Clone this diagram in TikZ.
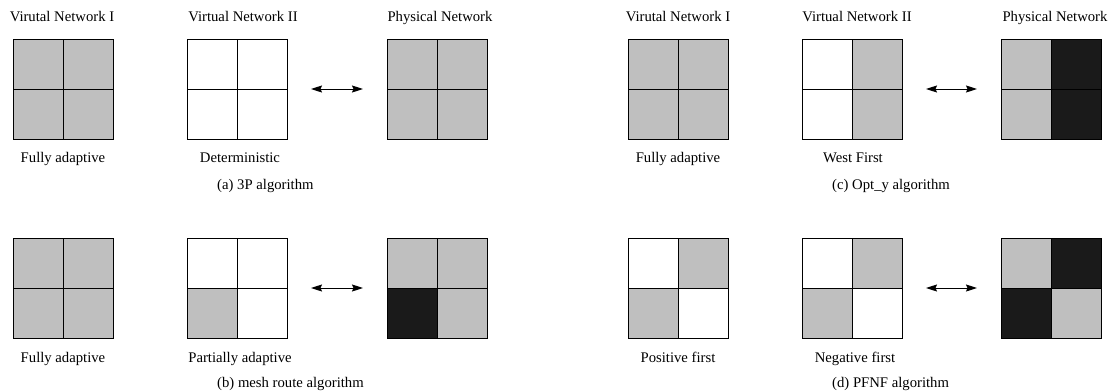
\documentclass[tikz,border=0pt]{standalone}
\usepackage{fontspec}
\setmainfont{Liberation Serif}
\usetikzlibrary{
  arrows.meta,
  positioning
}
\definecolor{cellgray}{HTML}{BFBFBF}
\definecolor{celldark}{HTML}{1A1A1A}
\tikzset{
  % Outline of one 2x2 mesh.
  mesh box/.style={
    minimum size=100pt,
    inner sep=0pt,
    outer sep=0pt},
%
  % Borders between the channels.
  mesh line/.style={
    line width=1pt},
%
  % Mapping between virtual and physical network.
  mapping/.style={
    {Stealth[length=11pt,width=7pt,inset=1.5pt]}-{Stealth[length=11pt,width=7pt,inset=1.5pt]},
    line width=1pt,
    shorten <=24pt,
    shorten >=24pt},
%
  % Texts above and below the meshes.
  description/.style={
    font=\fontsize{14.7}{17}\selectfont,
    anchor=base,
    inner sep=0pt},
  caption/.style={
    description,
    anchor=base west},
}
% name, centre, top left, top right, bottom left, bottom right
\newcommand{\quadmesh}[6]{%
  \node[mesh box] (#1) at (#2) {};
  \fill[#3] (#1.north west) rectangle (#1.center);
  \fill[#4] (#1.north east) rectangle (#1.center);
  \fill[#5] (#1.south west) rectangle (#1.center);
  \fill[#6] (#1.south east) rectangle (#1.center);
  \draw[mesh line] (#1.north) -- (#1.south) (#1.west) -- (#1.east);
  \draw[mesh line] (#1.north west) rectangle (#1.south east);
}

\begin{document}
\begin{tikzpicture}[x=1pt,y=-1pt]
  \useasboundingbox (0,0) rectangle (1109,391);

  % (a) 3P
  \quadmesh{a1}{63,89}{cellgray}{cellgray}{cellgray}{cellgray}
  \quadmesh{a2}{237,89}{white}{white}{white}{white}
  \quadmesh{a3}{437,89}{cellgray}{cellgray}{cellgray}{cellgray}
  \draw[mapping] (a2) -- (a3);
  \node[description] (a1-title) at (62,21) {Virutal Network I};
  \node[description] (a2-title) at (243,21) {Virtual Network II};
  \node[description] (a3-title) at (440,21) {Physical Network};
  \node[description] (a1-text) at (63,162) {Fully adaptive};
  \node[description] (a2-text) at (240,162) {Deterministic};
  \node[caption] (a-cap) at (217,189) {(a) 3P algorithm};

  % (b) mesh route
  \quadmesh{b1}{63,288}{cellgray}{cellgray}{cellgray}{cellgray}
  \quadmesh{b2}{237,288}{white}{white}{cellgray}{white}
  \quadmesh{b3}{437,288}{cellgray}{cellgray}{celldark}{cellgray}
  \draw[mapping] (b2) -- (b3);
  \node[description] (b1-text) at (63,362) {Fully adaptive};
  \node[description] (b2-text) at (240,362) {Partially adaptive};
  \node[caption] (b-cap) at (217,387) {(b) mesh route algorithm};

  % (c) Opt_y
  \quadmesh{c1}{678,89}{cellgray}{cellgray}{cellgray}{cellgray}
  \quadmesh{c2}{852,89}{white}{cellgray}{white}{cellgray}
  \quadmesh{c3}{1051,89}{cellgray}{celldark}{cellgray}{celldark}
  \draw[mapping] (c2) -- (c3);
  \node[description] (c1-title) at (678,21) {Virutal Network I};
  \node[description] (c2-title) at (857,21) {Virtual Network II};
  \node[description] (c3-title) at (1055,21) {Physical Network};
  \node[description] (c1-text) at (678,162) {Fully adaptive};
  \node[description] (c2-text) at (853,162) {West First};
  \node[caption] (c-cap) at (832,189) {(c) Opt\_y algorithm};

  % (d) PFNF
  \quadmesh{d1}{678,288}{white}{cellgray}{cellgray}{white}
  \quadmesh{d2}{852,288}{white}{cellgray}{cellgray}{white}
  \quadmesh{d3}{1051,288}{cellgray}{celldark}{celldark}{cellgray}
  \draw[mapping] (d2) -- (d3);
  \node[description] (d1-text) at (678,362) {Positive first};
  \node[description] (d2-text) at (855,362) {Negative first};
  \node[caption] (d-cap) at (832,387) {(d) PFNF algorithm};
\end{tikzpicture}
\end{document}
